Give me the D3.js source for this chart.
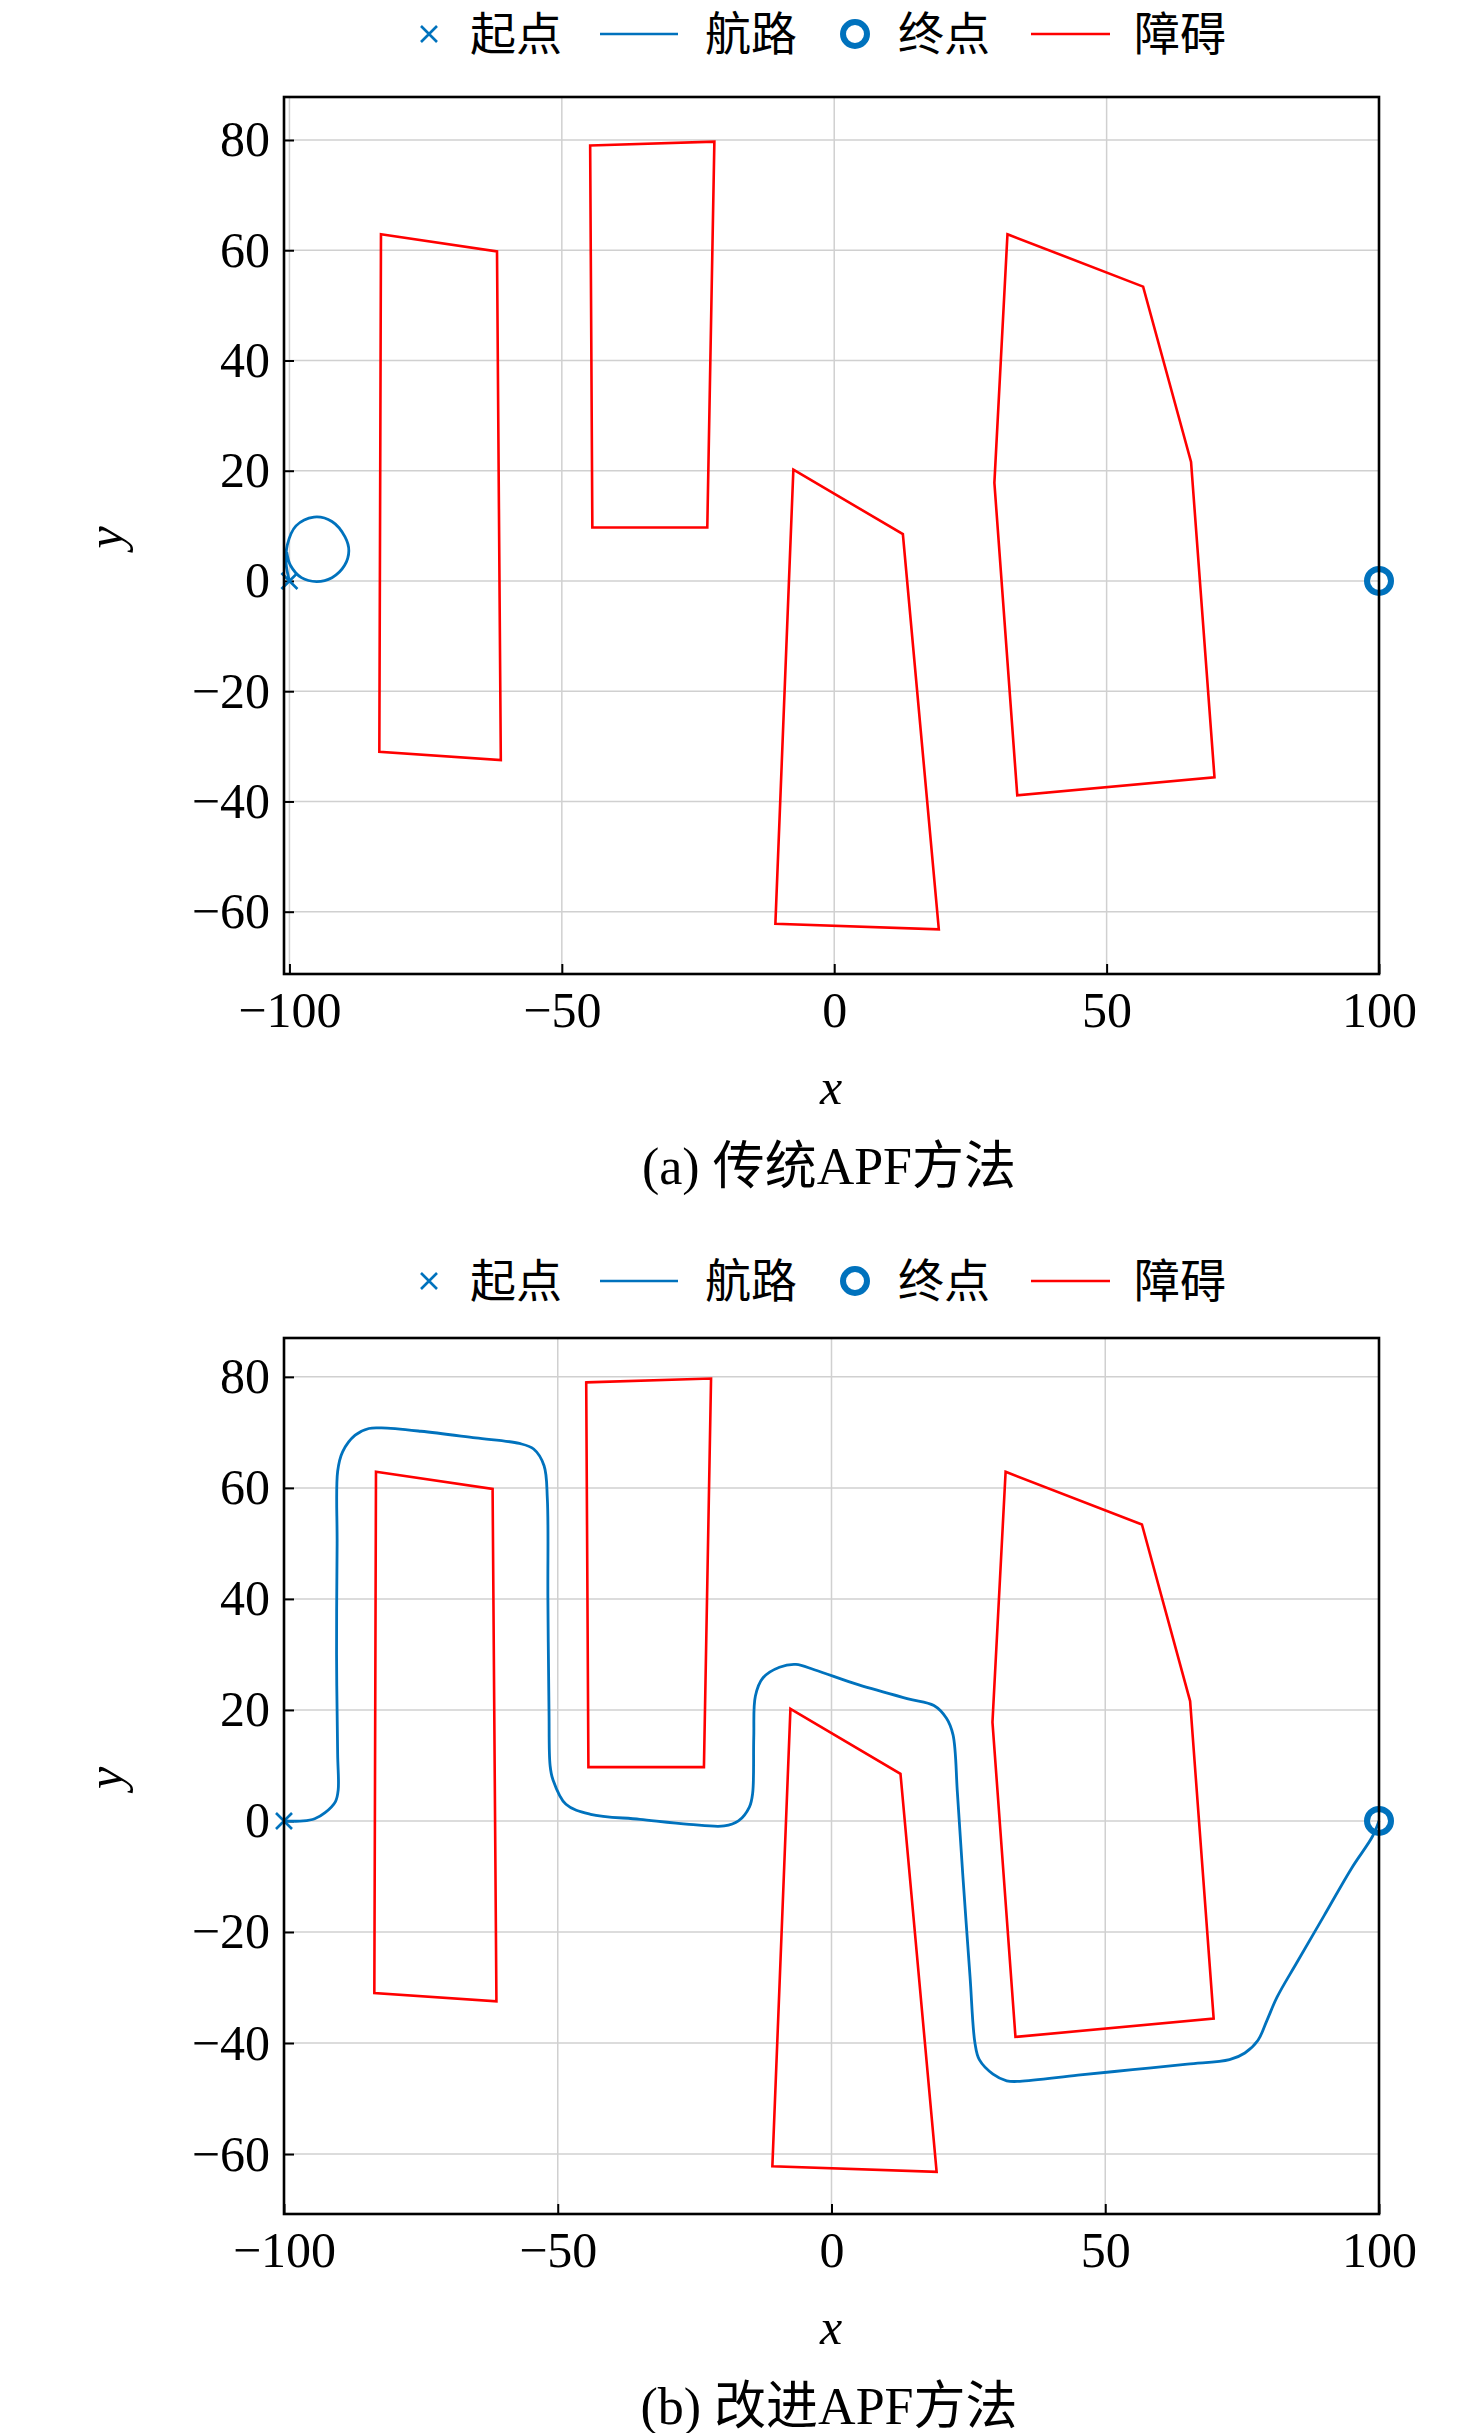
<!DOCTYPE html>
<html><head><meta charset="utf-8">
<script src="https://cdn.jsdelivr.net/npm/d3@7"></script>
<style>body{margin:0;background:#fff}</style>
</head><body>
<script>
// Obstacles (same in both panels)
const obstacles = [
  [[-83.2,62.9],[-61.9,59.8],[-61.2,-32.5],[-83.5,-31]],
  [[-44.8,79],[-22,79.7],[-23.3,9.7],[-44.4,9.7]],
  [[-7.5,20.2],[12.6,8.5],[19.2,-63.2],[-10.8,-62.2]],
  [[31.8,62.9],[56.7,53.4],[65.5,21.6],[69.8,-35.6],[33.6,-38.9],[29.4,17.8]]
];
// Traditional APF: path loops near the start
const pathA = [[-100,0],[-100.6,3],[-100.4,6.5],[-98.8,10],[-95.5,11.6],[-92.2,10.8],[-89.8,8],[-89.1,5.5],[-89.9,2.8],[-92.2,0.6],[-95,-0.1],[-97.8,0.6],[-99.8,2.8],[-100.5,5.2]];
// Improved APF path
const pathB = [[-100,0],[-96.5,0],[-94.4,0.4],[-92.5,1.5],[-90.6,3.5],[-90.1,5.6],[-90.2,12],[-90.4,30],[-90.3,50],[-90.2,63],[-89.3,66.5],[-87,69.5],[-84.5,70.7],[-82.2,70.8],[-75,70.2],[-65,69],[-57,68],[-54.4,67],[-52.5,64],[-51.9,58],[-51.8,40],[-51.6,20],[-51.4,10],[-50.9,7.5],[-48.5,3],[-44,1.2],[-35,0.3],[-26,-0.6],[-19.6,-0.9],[-17,0],[-15,2.5],[-14.4,5],[-14.2,15],[-13.9,22.5],[-12.5,25.8],[-9.5,27.7],[-6.5,28.2],[-3,27.2],[5,24.5],[14,22],[18.7,20.8],[21,18.5],[22.2,15.5],[23,5],[24,-10],[25.3,-28],[26.2,-40],[27,-43],[29.5,-45.6],[32,-46.8],[34.4,-46.9],[45,-45.8],[55,-44.8],[65,-43.8],[72.7,-43],[75.5,-41.8],[77.9,-39.5],[79.5,-36],[81.4,-31.7],[85,-25.5],[90,-17],[95,-8.5],[98.8,-2.8],[100,0]];
const startPt = [-100,0];
const endPt = [100,0];
const xTicks = [-100,-50,0,50,100];
const yTicks = [-60,-40,-20,0,20,40,60,80];
const legendItems = ["起点","航路","终点","障碍"];

const BLUE = "#0072BD", RED = "#FF0000";
const W = 1476, H = 2433;
const svg = d3.select("body").append("svg").attr("width", W).attr("height", H);
const serif = "'Liberation Serif','Noto Sans CJK SC',serif";
const cjk = "'Noto Sans CJK SC',sans-serif";

function panel(cfg) {
  const x = d3.scaleLinear().domain(cfg.xd).range([284, 1379]);
  const y = d3.scaleLinear().domain(cfg.yd).range([cfg.bottom, cfg.top]);
  const g = svg.append("g");
  // grid
  g.selectAll(".gx").data(xTicks).join("line")
    .attr("x1", d => x(d)).attr("x2", d => x(d)).attr("y1", cfg.top).attr("y2", cfg.bottom)
    .attr("stroke", "#d0d0d0").attr("stroke-width", 1.5);
  g.selectAll(".gy").data(yTicks).join("line")
    .attr("y1", d => y(d)).attr("y2", d => y(d)).attr("x1", 284).attr("x2", 1379)
    .attr("stroke", "#d0d0d0").attr("stroke-width", 1.5);
  // axes with inward ticks
  const xa = g.append("g").attr("transform", `translate(0,${cfg.bottom})`)
    .call(d3.axisBottom(x).tickValues(xTicks).tickSizeInner(-10).tickSizeOuter(0).tickPadding(22)
      .tickFormat(d => d < 0 ? "\u2212" + (-d) : d));
  const ya = g.append("g").attr("transform", "translate(284,0)")
    .call(d3.axisLeft(y).tickValues(yTicks).tickSizeInner(-10).tickSizeOuter(0).tickPadding(14)
      .tickFormat(d => d < 0 ? "\u2212" + (-d) : d));
  [xa, ya].forEach(a => {
    a.select(".domain").remove();
    a.selectAll("line").attr("stroke", "#000").attr("stroke-width", 2);
    a.selectAll("text").attr("font-family", serif).attr("font-size", 50).attr("fill", "#000");
  });
  xa.selectAll("text").attr("dy", "0.62em");
  // obstacles
  g.selectAll(".ob").data(obstacles).join("path")
    .attr("d", d => d3.line().x(p => x(p[0])).y(p => y(p[1]))(d) + "Z")
    .attr("fill", "none").attr("stroke", RED).attr("stroke-width", 2.6);
  // path
  g.append("path").attr("d", d3.line().x(p => x(p[0])).y(p => y(p[1])).curve(d3.curveCatmullRom)(cfg.path))
    .attr("fill", "none").attr("stroke", BLUE).attr("stroke-width", 2.8);
  // start marker
  const sx = x(startPt[0]), sy = y(startPt[1]);
  g.append("path").attr("d", `M${sx-8},${sy-8}L${sx+8},${sy+8}M${sx-8},${sy+8}L${sx+8},${sy-8}`)
    .attr("stroke", BLUE).attr("stroke-width", 2.6);
  g.append("circle").attr("cx", x(endPt[0])).attr("cy", y(endPt[1])).attr("r", 12)
    .attr("fill", "none").attr("stroke", BLUE).attr("stroke-width", 6);
  // frame
  g.append("rect").attr("x", 284).attr("y", cfg.top).attr("width", 1095).attr("height", cfg.bottom - cfg.top)
    .attr("fill", "none").attr("stroke", "#000").attr("stroke-width", 2.6);
  // axis labels
  g.append("text").attr("x", 831).attr("y", cfg.bottom + 130).attr("text-anchor", "middle")
    .attr("font-family", serif).attr("font-style", "italic").attr("font-size", 50).text("x");
  g.append("text").attr("transform", `translate(122,${(cfg.top + cfg.bottom) / 2 + 2}) rotate(-90)`)
    .attr("text-anchor", "middle").attr("font-family", serif).attr("font-style", "italic").attr("font-size", 50).text("y");
  // caption
  g.append("text").attr("x", 829).attr("y", cfg.bottom + 210).attr("text-anchor", "middle")
    .attr("font-family", serif).attr("font-size", 52).text(cfg.caption);
  // legend
  const ly = cfg.legendY;
  const lg = g.append("g").attr("font-family", cjk).attr("font-size", 46);
  lg.append("path").attr("d", `M${421},${ly-8}L${437},${ly+8}M${421},${ly+8}L${437},${ly-8}`)
    .attr("stroke", BLUE).attr("stroke-width", 2.6);
  lg.append("line").attr("x1", 600).attr("x2", 678).attr("y1", ly).attr("y2", ly).attr("stroke", BLUE).attr("stroke-width", 2.6);
  lg.append("circle").attr("cx", 855).attr("cy", ly).attr("r", 12).attr("fill", "none").attr("stroke", BLUE).attr("stroke-width", 6);
  lg.append("line").attr("x1", 1031).attr("x2", 1110).attr("y1", ly).attr("y2", ly).attr("stroke", RED).attr("stroke-width", 2.6);
  const tx = [470, 705, 898, 1134];
  legendItems.forEach((t, i) => lg.append("text").attr("x", tx[i]).attr("y", ly).attr("dy", "0.35em").text(t));
}

panel({xd: [-101, 100], yd: [-71.3, 87.8], top: 97, bottom: 974, path: pathA, caption: "(a) 传统APF方法", legendY: 34});
panel({xd: [-100, 100], yd: [-70.8, 87], top: 1338, bottom: 2214, path: pathB, caption: "(b) 改进APF方法", legendY: 1281});
</script>
</body></html>
